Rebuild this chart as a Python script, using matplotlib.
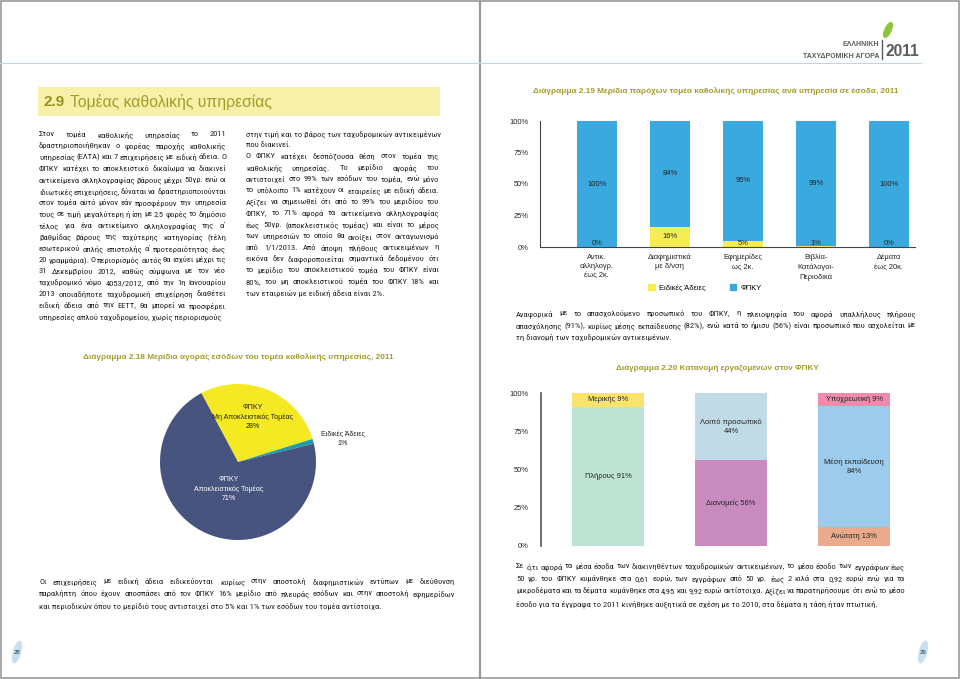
import matplotlib
matplotlib.use('Agg')
import matplotlib.pyplot as plt
from matplotlib.patches import Rectangle, Ellipse, Patch
import numpy as np

plt.rcParams['font.family'] = ['Liberation Sans', 'DejaVu Sans']
BODY_FONT = ['Roboto Condensed', 'Liberation Sans', 'DejaVu Sans']

# ---------------- data ----------------
cats_219 = ["Αντικ.\nαλληλογρ.\nέως 2κ.", "Διαφημιστικά\nμε δ/νση", "Εφημερίδες\nως 2κ.",
            "Βιβλία-\nΚατάλογοι-\nΠεριοδικά", "Δέματα\nέως 20κ."]
eidikes_219 = [0, 16, 5, 1, 0]
fpky_219 = [100, 84, 95, 99, 100]
series_219 = ["Ειδικές Άδειες", "ΦΠΚΥ"]

pie_labels = ["ΦΠΚΥ\nΜη Αποκλειστικός Τομέας", "Ειδικές Άδειες", "ΦΠΚΥ\nΑποκλειστικός Τομέας"]
pie_values = [28, 1, 71]

pct_ticks = [0, 25, 50, 75, 100]
pct_tick_labels = ["0%", "25%", "50%", "75%", "100%"]

emp_seg_labels = [["Πλήρους", "Μερικής"],
                  ["Διανομείς", "Λοιπό προσωπικό"],
                  ["Ανώτατη", "Μέση εκπαίδευση", "Υποχρεωτική"]]
emp_seg_values = [[91, 9], [56, 44], [13, 84, 9]]
emp_label_sep = [[" ", " "], [" ", "\n"], [" ", "\n", " "]]

title_section_num = "2.9"
title_section = "Τομέας καθολικής υπηρεσίας"
title_219 = "Διάγραμμα 2.19 Μερίδια παρόχων τομέα καθολικής υπηρεσίας ανά υπηρεσία σε έσοδα, 2011"
title_218 = "Διάγραμμα 2.18 Μερίδια αγοράς εσόδων του τομέα καθολικής υπηρεσίας, 2011"
title_220 = "Διάγραμμα 2.20 Κατανομή εργαζομένων στον ΦΠΚΥ"

col1_lines = [
    "Στον τομέα καθολικής υπηρεσίας το 2011",
    "δραστηριοποιήθηκαν ο φορέας παροχής καθολικής",
    "υπηρεσίας (ΕΛΤΑ) και 7 επιχειρήσεις με ειδική άδεια. Ο",
    "ΦΠΚΥ κατέχει το αποκλειστικό δικαίωμα να διακινεί",
    "αντικείμενα αλληλογραφίας βάρους μέχρι 50γρ. ενώ οι",
    "ιδιωτικές επιχειρήσεις, δύναται να δραστηριοποιούνται",
    "στον τομέα αυτό μόνον εάν προσφέρουν την υπηρεσία",
    "τους σε τιμή μεγαλύτερη ή ίση με 2,5 φορές το δημόσιο",
    "τέλος για ένα αντικείμενο αλληλογραφίας της α΄",
    "βαθμίδας βάρους της ταχύτερης κατηγορίας (τέλη",
    "εσωτερικού απλής επιστολής α΄ προτεραιότητας έως",
    "20 γραμμάρια). Ο περιορισμός αυτός θα ισχύει μέχρι τις",
    "31 Δεκεμβρίου 2012, καθώς σύμφωνα με τον νέο",
    "ταχυδρομικό νόμο 4053/2012, από την 1η Ιανουαρίου",
    "2013 οποιαδήποτε ταχυδρομική επιχείρηση διαθέτει",
    "ειδική άδεια από την ΕΕΤΤ, θα μπορεί να προσφέρει",
    "υπηρεσίες απλού ταχυδρομείου, χωρίς περιορισμούς",
]
col2_lines = [
    "στην τιμή και το βάρος των ταχυδρομικών αντικειμένων",
    "που διακινεί.",
    "Ο ΦΠΚΥ κατέχει δεσπόζουσα θέση στον τομέα της",
    "καθολικής υπηρεσίας. Το μερίδιο αγοράς του",
    "αντιστοιχεί στο 99% των εσόδων του τομέα, ενώ μόνο",
    "το υπόλοιπο 1% κατέχουν οι εταιρείες με ειδική άδεια.",
    "Αξίζει να σημειωθεί ότι από το 99% του μεριδίου του",
    "ΦΠΚΥ, το 71% αφορά τα αντικείμενα αλληλογραφίας",
    "έως 50γρ. (αποκλειστικός τομέας) και είναι το μέρος",
    "των υπηρεσιών το οποίο θα ανοίξει στον ανταγωνισμό",
    "από 1/1/2013. Από άποψη πλήθους αντικειμένων η",
    "εικόνα δεν διαφοροποιείται σημαντικά δεδομένου ότι",
    "το μερίδιο του αποκλειστικού τομέα του ΦΠΚΥ είναι",
    "80%, του μη αποκλειστικού τομέα του ΦΠΚΥ 18% και",
    "των εταιρειών με ειδική άδεια είναι 2%.",
]
bottom_left_lines = [
    "Οι επιχειρήσεις με ειδική άδεια ειδικεύονται κυρίως στην αποστολή διαφημιστικών εντύπων με διεύθυνση",
    "παραλήπτη όπου έχουν αποσπάσει από τον ΦΠΚΥ 16% μερίδιο από πλευράς εσόδων και στην αποστολή εφημερίδων",
    "και περιοδικών όπου το μερίδιό τους αντιστοιχεί στο 5% και 1% των εσόδων του τομέα αντίστοιχα.",
]
right_mid_lines = [
    "Αναφορικά με το απασχολούμενο προσωπικό του ΦΠΚΥ, η πλειοψηφία του αφορά υπαλλήλους πλήρους",
    "απασχόλησης (91%), κυρίως μέσης εκπαίδευσης (82%), ενώ κατά το ήμισυ (56%) είναι προσωπικό που ασχολείται με",
    "τη διανομή των ταχυδρομικών αντικειμένων.",
]
bottom_right_lines = [
    "Σε ό,τι αφορά τα μέσα έσοδα των διακινηθέντων ταχυδρομικών αντικειμένων, το μέσο έσοδο των εγγράφων έως",
    "50 γρ. του ΦΠΚΥ κυμάνθηκε στα 0,61 ευρώ, των εγγράφων από 50 γρ. έως 2 κιλά στα 0,92 ευρώ ενώ για τα",
    "μικροδέματα και τα δέματα κυμάνθηκε στα 4,95 και 9,92 ευρώ αντίστοιχα. Αξίζει να παρατηρήσουμε ότι ενώ το μέσο",
    "έσοδο για τα έγγραφα το 2011 κινήθηκε αυξητικά σε σχέση με το 2010, στα δέματα η τάση ήταν πτωτική.",
]
logo_line1 = "ΕΛΛΗΝΙΚΗ"
logo_line2 = "ΤΑΧΥΔΡΟΜΙΚΗ ΑΓΟΡΑ"
logo_year = "2011"
page_left = "28"
page_right = "29"

# ---------------- style ----------------
TXT = "#222222"
OLIVE = "#a29d2b"
OLIVE_BOLD = "#979020"
BOX = "#f7f0a9"
BLUE219 = "#3aa9e0"
YEL219 = "#f8ec55"
PIE_COLS = ["#f5e923", "#1b9ea9", "#47547f"]
EMP_COLS = [["#bfe3d3", "#fbe36c"], ["#c78bbf", "#c1dbe6"], ["#e9ab8c", "#9dcbec", "#f08cab"]]

W, H = 960, 679
fig = plt.figure(figsize=(9.6, 6.79), dpi=100)
fig.patch.set_facecolor("white")
renderer = fig.canvas.get_renderer()


def px_rect(x0, y0, x1, y1):
    return [x0 / W, 1 - y1 / H, (x1 - x0) / W, (y1 - y0) / H]


bg = fig.add_axes([0, 0, 1, 1], zorder=0)
bg.set_xlim(0, W)
bg.set_ylim(H, 0)
bg.axis("off")


def ptext(x, y, s, **kw):
    kw.setdefault("color", TXT)
    return bg.text(x, y, s, **kw)


def text_width(s, size, **kw):
    t = bg.text(0, 0, s, fontsize=size, **kw)
    w = t.get_window_extent(renderer).width
    t.remove()
    return w


def fit_size(s, target, base=8.0, **kw):
    return base * target / text_width(s, base, **kw)


def para_size(lines, x0, x1, nojust=()):
    ws = [text_width(l, 10.0, family=BODY_FONT) for i, l in enumerate(lines[:-1]) if i not in nojust]
    return 10.0 * (x1 - x0) * 0.99 / float(max(ws))


def justify(lines, x0, x1, y0, dy, size, color=TXT, nojust=()):
    kw = dict(color=color, va="center_baseline", ha="left", family=BODY_FONT)
    for i, line in enumerate(lines):
        y = y0 + i * dy
        if i == len(lines) - 1 or i in nojust:
            ptext(x0, y, line, fontsize=size, **kw)
            continue
        words = line.split(" ")
        s = size
        while True:
            ts = [ptext(x0, y, w, fontsize=s, **kw) for w in words]
            widths = [t.get_window_extent(renderer).width for t in ts]
            gap = (x1 - x0 - sum(widths)) / max(len(words) - 1, 1)
            if gap >= 0.12 * s * 100 / 72 or s < 0.85 * size:
                break
            for t in ts:
                t.remove()
            s *= 0.985
        x = x0
        for t, w in zip(ts, widths):
            t.set_x(x)
            x += w + gap


# ---------------- page furniture ----------------
bg.add_patch(Rectangle((0.7, 0.7), W - 1.6, H - 1.6, fill=False, ec="#9a9a9a", lw=1.2))
bg.plot([480, 480], [0, H], color="#9a9a9a", lw=1.6)
bg.plot([0, 921], [62.5, 62.5], color="#bcd9df", lw=0.8)

# logo
bg.add_patch(Ellipse((888, 30), 6, 16, angle=25, color="#8cc43c"))
ptext(879, 45, logo_line1, fontsize=5.0, fontweight="bold", color="#5a5a5a", ha="right", va="center")
ptext(879, 56, logo_line2, fontsize=5.0, fontweight="bold", color="#5a5a5a", ha="right", va="center")
bg.plot([882, 882], [40, 59], color="#5a5a5a", lw=1.0)
ptext(885, 51, logo_year, fontsize=fit_size(logo_year, 34, fontweight="bold"), fontweight="bold",
      color="#5a5a5a", ha="left", va="center")

# page numbers
for (x, s) in [(17, page_left), (923, page_right)]:
    bg.add_patch(Ellipse((x, 652), 7, 22, angle=15, color="#c6e0f2"))
    ptext(x, 652, s, fontsize=4.3, color="#223344", ha="center", va="center")

# section title
bg.add_patch(Rectangle((38, 87), 402, 29, color=BOX, lw=0))
ptext(44, 101, title_section_num, fontsize=11, fontweight="bold", color=OLIVE_BOLD, ha="left", va="center_baseline")
ptext(70, 101, title_section, fontsize=fit_size(title_section, 204), color=OLIVE, ha="left", va="center_baseline")

# ---------------- body text ----------------
paras = [
    (col1_lines, 39, 226, 134, 11.4, ()),
    (col2_lines, 246, 439, 133, 11.4, (0, 1)),
    (bottom_left_lines, 39, 455, 581, 12, ()),
    (right_mid_lines, 516, 916, 313, 12, ()),
    (bottom_right_lines, 516, 905, 566, 12.2, ()),
]
BODY = float(np.median([para_size(p[0], p[1], p[2], p[5]) for p in paras]))
for lines, x0, x1, y0, dy, nj in paras:
    justify(lines, x0, x1, y0, dy, BODY, nojust=nj)

# chart titles
for s, cx, cy, wt in [(title_219, 716, 91, 362), (title_218, 238, 357, 309), (title_220, 717, 368, 203)]:
    ptext(cx, cy, s, fontsize=fit_size(s, wt, fontweight="bold"), fontweight="bold", color=OLIVE,
          ha="center", va="center")

# ---------------- chart 2.19 ----------------
ax1 = fig.add_axes(px_rect(540, 121, 915, 247), zorder=2)
x1 = np.arange(len(cats_219))
bw = 0.55
ax1.bar(x1, eidikes_219, bw, color=YEL219, label=series_219[0], lw=0)
ax1.bar(x1, fpky_219, bw, bottom=eidikes_219, color=BLUE219, label=series_219[1], lw=0)
for xi, e, f in zip(x1, eidikes_219, fpky_219):
    ax1.text(xi, max(e / 2, 3), f"{e}%", ha="center", va="center", fontsize=5.4, color=TXT)
    ax1.text(xi, e + f / 2, f"{f}%", ha="center", va="center", fontsize=5.4, color=TXT)
ax1.set_xlim(-0.78, 4.36)
ax1.set_ylim(0, 100)
ax1.set_yticks(pct_ticks, pct_tick_labels)
ax1.set_xticks(x1, cats_219)
ax1.tick_params(axis="both", length=0, labelsize=5.4, colors=TXT)
ax1.tick_params(axis="y", pad=8)
ax1.tick_params(axis="x", pad=5)
for lab in ax1.get_xticklabels():
    lab.set_linespacing(1.4)
for sp in ["top", "right"]:
    ax1.spines[sp].set_visible(False)
for sp in ["left", "bottom"]:
    ax1.spines[sp].set_color("#444444")
    ax1.spines[sp].set_linewidth(0.8)
ax1.patch.set_alpha(0)
ax1.legend(handles=[Patch(color=YEL219), Patch(color=BLUE219)], labels=series_219,
           loc="center", bbox_to_anchor=((705) / W, 1 - 288 / H), bbox_transform=fig.transFigure,
           ncol=2, frameon=False, fontsize=5.4, handlelength=0.9, handleheight=0.9,
           columnspacing=3.2, handletextpad=0.6)

# ---------------- chart 2.18 (pie) ----------------
ax3 = fig.add_axes(px_rect(160, 384, 316, 540), zorder=2)
ax3.pie(pie_values, colors=PIE_COLS, startangle=118, counterclock=False,
        wedgeprops=dict(linewidth=0))
ax3.set_xlim(-1, 1)
ax3.set_ylim(-1, 1)
ax3.set_aspect("equal")
pie_label_pos = [(253, 417, TXT), (343, 439, TXT), (229, 489, "white")]
for lab, v, (lx, ly, c) in zip(pie_labels, pie_values, pie_label_pos):
    ax3.text(lx, ly, f"{lab}\n{v}%", transform=bg.transData, ha="center", va="center",
             fontsize=5.1, color=c, linespacing=1.4)

# ---------------- chart 2.20 ----------------
ax2 = fig.add_axes(px_rect(541, 393, 900, 546), zorder=2)
x2 = np.arange(len(emp_seg_values))
bw2 = 0.585
for xi, labs, vals, cols, seps in zip(x2, emp_seg_labels, emp_seg_values, EMP_COLS, emp_label_sep):
    tot = float(sum(vals))
    bottom = 0.0
    for lab, v, c, sep in zip(labs, vals, cols, seps):
        h = v / tot * 100
        ax2.bar(xi, h, bw2, bottom=bottom, color=c, lw=0)
        ax2.text(xi, bottom + h / 2, f"{lab}{sep}{v}%", ha="center", va="center",
                 fontsize=5.4, color=TXT, linespacing=1.45)
        bottom += h
ax2.set_xlim(-0.545, 2.373)
ax2.set_ylim(0, 100)
ax2.set_yticks(pct_ticks, pct_tick_labels)
ax2.set_xticks([])
ax2.tick_params(axis="y", length=0, labelsize=5.4, colors=TXT, pad=9)
for sp in ["top", "right", "bottom"]:
    ax2.spines[sp].set_visible(False)
ax2.spines["left"].set_color("#555555")
ax2.spines["left"].set_linewidth(1.2)
ax2.patch.set_alpha(0)

fig.savefig("out.png", dpi=100)
